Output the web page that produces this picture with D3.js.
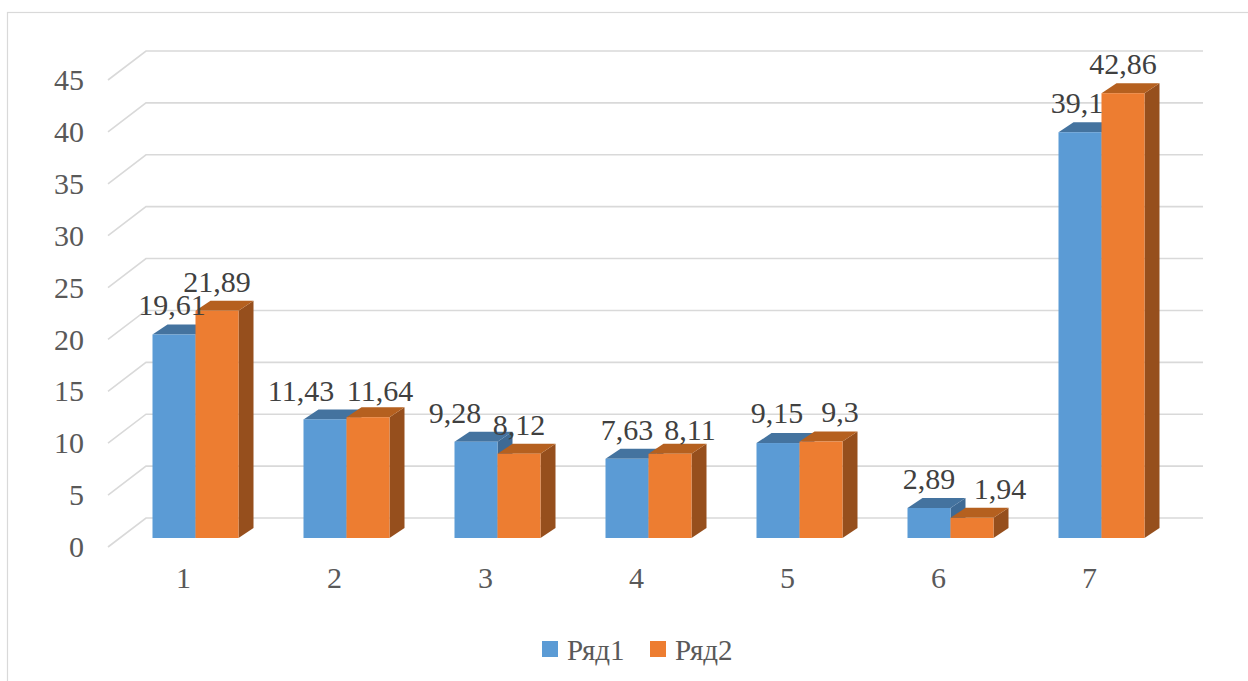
<!DOCTYPE html>
<html><head><meta charset="utf-8">
<script src="https://cdn.jsdelivr.net/npm/d3@7"></script>
<style>
html,body{margin:0;padding:0;background:#fff;}
svg{display:block;font-family:"Liberation Serif","Times New Roman",serif;}
</style></head>
<body>
<script>
const categories = ["1","2","3","4","5","6","7"];
const seriesNames = ["Ряд1","Ряд2"];
const series1 = [19.61, 11.43, 9.28, 7.63, 9.15, 2.89, 39.1];
const series2 = [21.89, 11.64, 8.12, 8.11, 9.3, 1.94, 42.86];
const valueLabels1 = ["19,61","11,43","9,28","7,63","9,15","2,89","39,1"];
const valueLabels2 = ["21,89","11,64","8,12","8,11","9,3","1,94","42,86"];
const yTicks = [0,5,10,15,20,25,30,35,40,45];

// layout tweaks: data-label nudges (px) to avoid overlaps, as in the original
const labelNudge1 = [[-2,0],[-24,1],[-21,0],[0,0],[-1,-1],[0,0],[-3,0]];
const labelNudge2 = [[0,0],[12,3],[0,0],[20,5],[19,0],[28,0],[0,0]];

const W = 1248, H = 681;
const FONT = "'Liberation Serif','Times New Roman',serif";
const svg = d3.select("body").append("svg").attr("width", W).attr("height", H);

// frame (extends past right/bottom)
svg.append("rect").attr("x", 7.5).attr("y", 12.5).attr("width", 1300).attr("height", 800)
  .attr("fill", "none").attr("stroke", "#D9D9D9").attr("stroke-width", 1.2);

// geometry
const backX0 = 146, backX1 = 1203;
const depthDX = 38, depthDY = -29;           // front floor edge -> back wall
const barOffX = 12, barOffY = -9;            // front floor edge -> bar front plane
const barDX = 15, barDY = -10;               // bar depth

const yBack = d3.scaleLinear().domain([0,45]).range([518, 51]);
const yFront = d3.scaleLinear().domain([0,45]).range([518 - depthDY, 51 - depthDY]);
const yBar = d3.scaleLinear().domain([0,45]).range([518 - depthDY + barOffY, 51 - depthDY + barOffY]);

const xFront = d3.scaleBand().domain(categories).range([backX0 - depthDX, backX1 - depthDX]).paddingInner(0).paddingOuter(0);
const groupW = 86;
const xInner = d3.scaleBand().domain(seriesNames).range([0, groupW]).padding(0);

// gridlines
const grid = svg.append("g");
yTicks.forEach(t => {
  const yb = yBack(t);
  grid.append("polyline")
    .attr("points", `${backX0-depthDX},${yb-depthDY} ${backX0},${yb} ${backX1},${yb}`)
    .attr("fill","none").attr("stroke","#D9D9D9").attr("stroke-width",1.6);
});

// y axis labels
const yAxis = d3.axisLeft(yFront).tickValues(yTicks).tickSize(0).tickPadding(24).tickFormat(d3.format("d"));
const ga = svg.append("g").attr("transform", `translate(${backX0-depthDX},0)`).call(yAxis)
  .attr("font-family", FONT);
ga.select(".domain").remove();
ga.selectAll("text").attr("font-size", 30).attr("fill", "#595959").attr("font-family", FONT);

// category labels
const xAxis = d3.axisBottom(xFront).tickSize(0).tickPadding(0);
const gx = svg.append("g").attr("transform", `translate(0,${yFront(0)+20})`).call(xAxis)
  .attr("font-family", FONT);
gx.select(".domain").remove();
gx.selectAll("text").attr("font-size", 30).attr("fill", "#595959").attr("font-family", FONT);

const colors = {
  "Ряд1": {front:"#5B9BD5", top:"#44739F", side:"#3E6A95"},
  "Ряд2": {front:"#ED7D31", top:"#B5601F", side:"#964F1D"}
};

const bars = svg.append("g");
const labels = svg.append("g").attr("font-family", FONT);
categories.forEach((c, i) => {
  const gx0 = xFront(c) + xFront.bandwidth()/2 - groupW/2 + barOffX;
  [[seriesNames[0], series1[i], valueLabels1[i], labelNudge1[i]],
   [seriesNames[1], series2[i], valueLabels2[i], labelNudge2[i]]].forEach(([s, v, lab, nd]) => {
    const x0 = gx0 + xInner(s), x1 = x0 + xInner.bandwidth();
    const yT = yBar(v), yB = yBar(0);
    const col = colors[s];
    bars.append("polygon")
      .attr("points", `${x1},${yT} ${x1+barDX},${yT+barDY} ${x1+barDX},${yB+barDY} ${x1},${yB}`)
      .attr("fill", col.side);
    bars.append("polygon")
      .attr("points", `${x0},${yT} ${x0+barDX},${yT+barDY} ${x1+barDX},${yT+barDY} ${x1},${yT}`)
      .attr("fill", col.top);
    bars.append("rect").attr("x", x0).attr("y", yT).attr("width", x1-x0).attr("height", yB-yT)
      .attr("fill", col.front);
    labels.append("text").attr("x", (x0+x1)/2 + nd[0]).attr("y", yT + barDY - 9 + nd[1])
      .attr("text-anchor","middle").attr("font-size", 30).attr("fill","#404040").text(lab);
  });
});

// legend
const legend = svg.append("g").attr("font-family", FONT);
const legendItems = [{name: seriesNames[0], x: 542}, {name: seriesNames[1], x: 650}];
legendItems.forEach(d => {
  legend.append("rect").attr("x", d.x).attr("y", 641).attr("width", 16).attr("height", 16)
    .attr("fill", colors[d.name].front);
  legend.append("text").attr("x", d.x + 25).attr("y", 660).attr("font-size", 29)
    .attr("fill","#595959").text(d.name);
});
</script>
</body></html>
